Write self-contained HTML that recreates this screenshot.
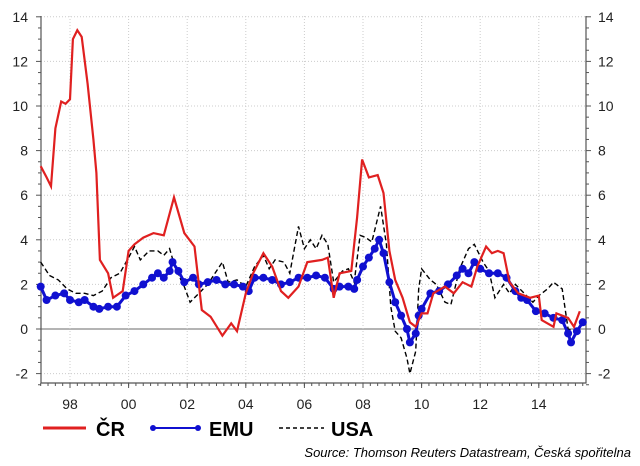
<!DOCTYPE html>
<html><head><meta charset="utf-8"><style>
body{margin:0;background:#fff;}
svg{display:block;font-family:"Liberation Sans",sans-serif;}
</style></head><body>
<svg id="chart" width="640" height="466">
<g id="grid"></g>
<g id="axes"></g>
<g id="series"></g>
<g>
 <line x1="43" y1="428" x2="86" y2="428" stroke="#e02020" stroke-width="3"/>
 <text x="96" y="436" font-size="20" font-weight="bold">ČR</text>
 <line x1="152" y1="428" x2="199" y2="428" stroke="#1010d0" stroke-width="2"/>
 <circle cx="153" cy="428" r="3" fill="#1010d0"/>
 <circle cx="198" cy="428" r="3" fill="#1010d0"/>
 <text x="209" y="436" font-size="20" font-weight="bold">EMU</text>
 <line x1="279" y1="428" x2="324" y2="428" stroke="#000" stroke-width="1.5" stroke-dasharray="4,3"/>
 <text x="331" y="436" font-size="20" font-weight="bold">USA</text>
</g>
<text x="631" y="457" font-size="13" font-style="italic" text-anchor="end">Source: Thomson Reuters Datastream, Česká spořitelna</text>
</svg>
<script>
const yTicks=[-2,0,2,4,6,8,10,12,14];
const xTickYears=[1998,2000,2002,2004,2006,2008,2010,2012,2014];
const xTickLabels=["98","00","02","04","06","08","10","12","14"];
const crT=[1997.0,1997.2,1997.35,1997.5,1997.7,1997.85,1998.0,1998.1,1998.25,1998.4,1998.6,1998.8,1998.9,1999.02,1999.3,1999.47,1999.8,2000.0,2000.2,2000.5,2000.85,2001.2,2001.55,2001.9,2002.25,2002.5,2002.8,2003.2,2003.5,2003.7,2004.0,2004.25,2004.6,2004.9,2005.2,2005.45,2005.8,2006.1,2006.6,2006.8,2007.0,2007.2,2007.6,2007.8,2007.97,2008.2,2008.5,2008.7,2008.9,2009.1,2009.35,2009.6,2009.8,2010.0,2010.2,2010.4,2010.8,2011.1,2011.4,2011.7,2011.9,2012.2,2012.4,2012.6,2012.8,2013.0,2013.3,2013.7,2014.0,2014.1,2014.5,2014.6,2015.0,2015.2,2015.4];
const crV=[7.3,6.8,6.4,9.0,10.2,10.1,10.3,13.0,13.4,13.1,11.0,8.5,7.0,3.1,2.5,1.4,1.7,3.5,3.8,4.1,4.3,4.2,5.9,4.3,3.7,0.85,0.55,-0.3,0.25,-0.1,1.6,2.5,3.4,2.8,1.7,1.4,1.9,3.0,3.1,3.2,1.4,2.5,2.6,5.0,7.6,6.8,6.9,6.1,3.5,2.2,1.4,0.3,0.1,0.7,0.7,1.6,1.9,1.6,2.1,1.9,2.8,3.7,3.4,3.5,3.4,2.1,1.6,1.4,1.5,0.4,0.1,0.7,0.5,0.1,0.8];
const emuT=[1997.0,1997.2,1997.5,1997.8,1998.0,1998.3,1998.5,1998.8,1999.0,1999.3,1999.6,1999.9,2000.2,2000.5,2000.8,2001.0,2001.2,2001.4,2001.5,2001.7,2001.9,2002.2,2002.4,2002.7,2003.0,2003.3,2003.6,2003.9,2004.1,2004.3,2004.6,2004.9,2005.2,2005.5,2005.8,2006.1,2006.4,2006.7,2007.0,2007.2,2007.5,2007.7,2007.8,2008.0,2008.2,2008.4,2008.55,2008.7,2008.9,2009.1,2009.3,2009.5,2009.6,2009.8,2009.9,2010.0,2010.3,2010.6,2010.9,2011.2,2011.4,2011.6,2011.8,2012.0,2012.3,2012.6,2012.9,2013.2,2013.4,2013.6,2013.9,2014.2,2014.5,2014.8,2015.0,2015.1,2015.3,2015.5];
const emuV=[1.9,1.3,1.5,1.6,1.3,1.2,1.3,1.0,0.9,1.0,1.0,1.5,1.7,2.0,2.3,2.5,2.3,2.6,3.0,2.6,2.1,2.3,2.0,2.1,2.2,2.0,2.0,1.9,1.7,2.3,2.3,2.2,2.0,2.1,2.3,2.3,2.4,2.3,1.8,1.9,1.9,1.8,2.2,2.8,3.2,3.6,4.0,3.4,2.1,1.2,0.6,0.0,-0.6,-0.2,0.6,0.9,1.6,1.7,2.0,2.4,2.7,2.5,3.0,2.7,2.5,2.5,2.3,1.7,1.4,1.3,0.8,0.7,0.5,0.4,-0.2,-0.6,-0.1,0.3];
const usaT=[1997.0,1997.3,1997.6,1997.9,1998.2,1998.5,1998.8,1999.1,1999.4,1999.7,2000.0,2000.2,2000.4,2000.7,2001.0,2001.2,2001.4,2001.6,2001.9,2002.1,2002.4,2002.7,2003.0,2003.2,2003.4,2003.7,2004.0,2004.3,2004.6,2004.8,2005.0,2005.3,2005.5,2005.8,2006.0,2006.2,2006.4,2006.6,2006.8,2007.0,2007.3,2007.5,2007.7,2007.9,2008.1,2008.3,2008.6,2008.8,2008.95,2009.1,2009.3,2009.5,2009.6,2009.8,2009.9,2010.0,2010.3,2010.5,2010.8,2011.0,2011.3,2011.6,2011.8,2012.1,2012.3,2012.5,2012.8,2013.0,2013.2,2013.5,2013.8,2014.0,2014.3,2014.5,2014.8,2015.0,2015.2,2015.4];
const usaV=[3.0,2.4,2.2,1.8,1.6,1.6,1.5,1.7,2.3,2.5,3.2,3.7,3.1,3.5,3.5,3.3,3.6,2.7,1.9,1.2,1.6,2.0,2.6,3.0,2.1,2.2,1.9,2.8,3.3,2.7,3.1,3.0,2.5,4.6,3.6,4.0,3.6,4.2,3.8,2.1,2.6,2.7,2.1,4.2,4.1,3.9,5.5,3.8,1.0,-0.1,-0.4,-1.3,-2.0,-1.0,1.8,2.7,2.2,2.0,1.2,1.1,2.7,3.6,3.8,3.0,2.6,1.4,2.0,1.6,2.0,1.6,1.2,1.5,1.8,2.1,1.8,0.0,-0.1,0.1];

const L=41,R=586,T=16,B=383;
const X=t=>70+(t-1998)*29.3;
const Y=v=>329-v*22.3;
const NS="http://www.w3.org/2000/svg";
function mk(tag,attrs,parent){const e=document.createElementNS(NS,tag);for(const k in attrs)e.setAttribute(k,attrs[k]);parent.appendChild(e);return e;}
const grid=document.getElementById('grid'),axes=document.getElementById('axes'),ser=document.getElementById('series');
yTicks.forEach(v=>{
  const y=Y(v);
  if(v===0){const l=mk('line',{x1:L,x2:R,y1:y,y2:y,stroke:'#888','stroke-width':1.2},grid);
    
    }
  else{const l=mk('line',{x1:L,x2:R,y1:y,y2:y,stroke:'#ccc','stroke-dasharray':'1,2'},grid);
    
    }
  const a=mk('text',{x:28,y:y+5,'font-size':14,'text-anchor':'end',fill:'#222'},axes);a.textContent=v;
  
  
  const b=mk('text',{x:598,y:y+5,'font-size':14,fill:'#222'},axes);b.textContent=v;
  
  
});
for(let v=-2.5;v<=14.01;v+=0.5){const y=Y(v);const len=Math.abs(v%2)<0.01?5:3;
  mk('line',{x1:L-len,x2:L,y1:y,y2:y,stroke:'#555'},axes);mk('line',{x1:R,x2:R+len,y1:y,y2:y,stroke:'#555'},axes);}
xTickYears.forEach((t,i)=>{const x=X(t);
  const l=mk('line',{x1:x,x2:x,y1:T,y2:B,stroke:'#ccc','stroke-dasharray':'1,2'},grid);
  
  
  const tx=mk('text',{x:x,y:409,'font-size':14,'text-anchor':'middle',fill:'#222'},axes);tx.textContent=xTickLabels[i];
  
  
  mk('line',{x1:x,x2:x,y1:B,y2:B+5,stroke:'#555'},axes);});
for(let m=0;m<=18.5*12;m+=3){const x=X(1997+m/12);if(x<R)mk('line',{x1:x,x2:x,y1:B,y2:B+3,stroke:'#555'},axes);}
const ax=mk('path',{d:`M${L},${T}V${B}H${R}V${T}`,fill:'none',stroke:'#555','stroke-width':1.2},axes);


const pts=(ts,vs)=>ts.map((t,i)=>X(t).toFixed(1)+','+Y(vs[i]).toFixed(1)).join(' ');
const usa=mk('polyline',{points:pts(usaT,usaV),fill:'none',stroke:'#000','stroke-width':1.4,'stroke-dasharray':'5,3'},ser);


const emu=mk('polyline',{points:pts(emuT,emuV),fill:'none',stroke:'#1010d0','stroke-width':3},ser);


emuT.forEach((t,i)=>{const c=mk('circle',{cx:X(t),cy:Y(emuV[i]),r:4,fill:'#1010d0'},ser);
  
  });
const cr=mk('polyline',{points:pts(crT,crV),fill:'none',stroke:'#e02020','stroke-width':2.2},ser);


</script>
</body></html>
